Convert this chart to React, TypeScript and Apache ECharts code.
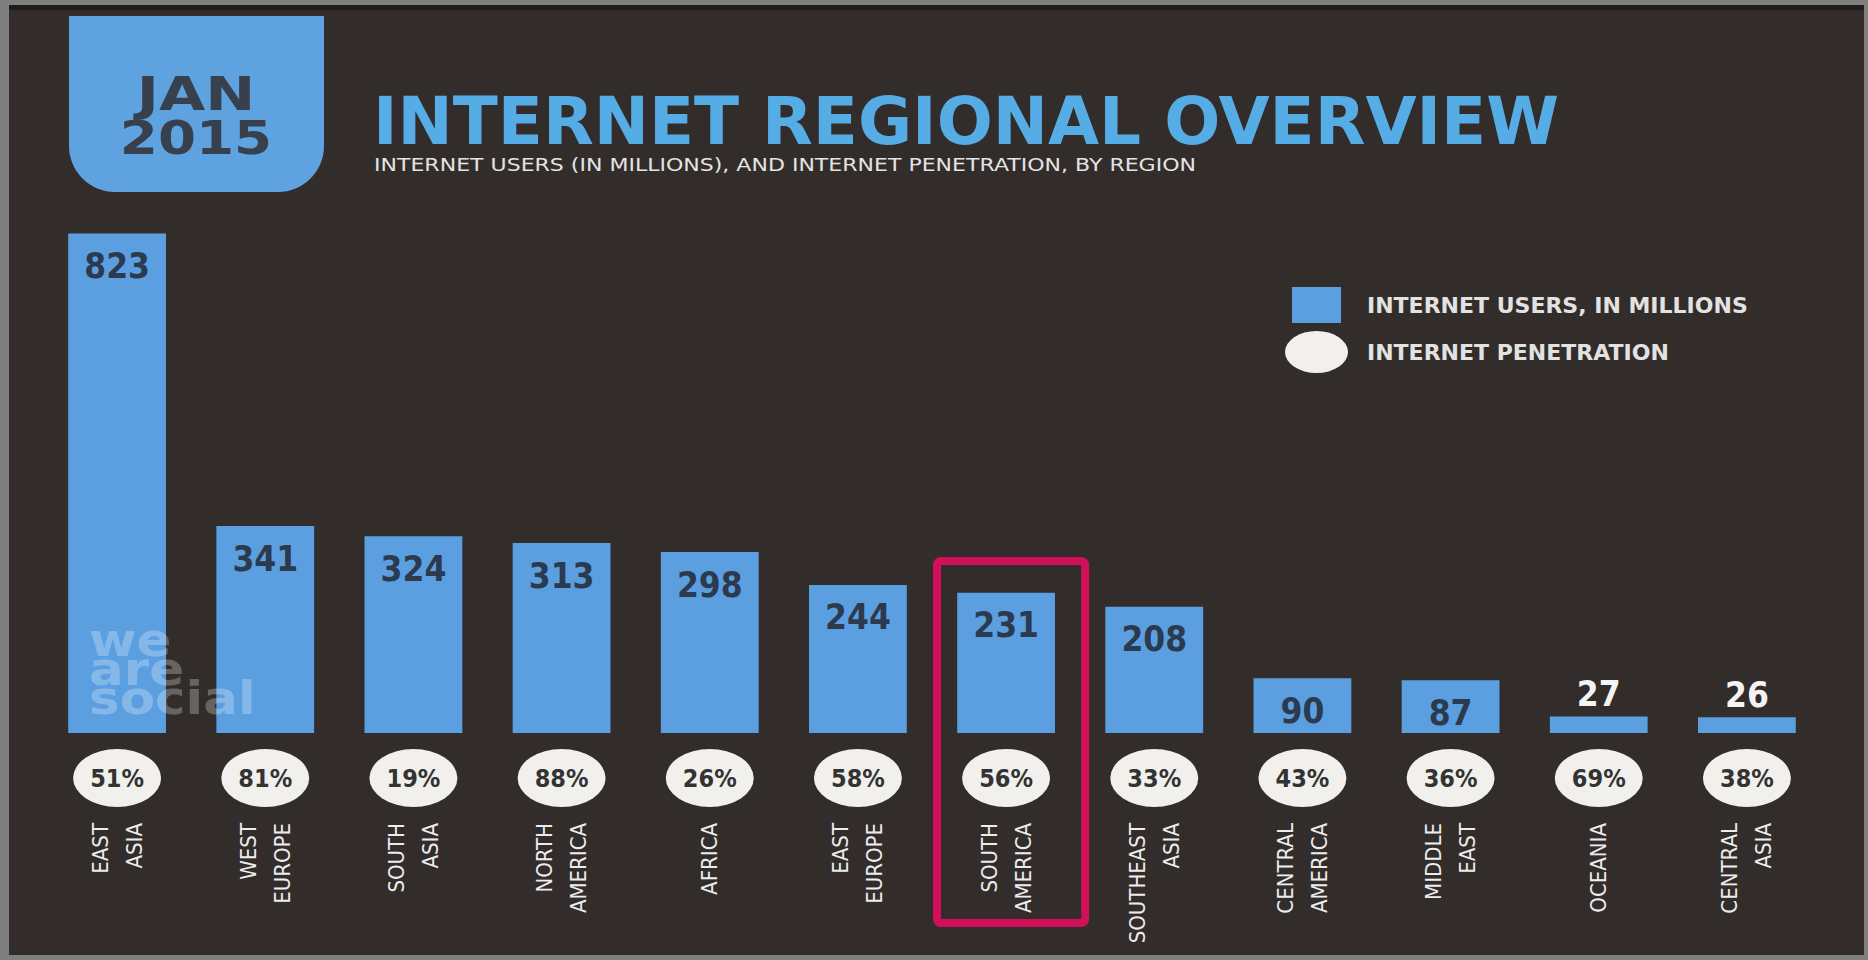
import React, { useEffect, useRef } from 'react';
import * as echarts from 'echarts';

// ---- data ----
const regions = [
  'EAST\nASIA', 'WEST\nEUROPE', 'SOUTH\nASIA', 'NORTH\nAMERICA', 'AFRICA', 'EAST\nEUROPE',
  'SOUTH\nAMERICA', 'SOUTHEAST\nASIA', 'CENTRAL\nAMERICA', 'MIDDLE\nEAST', 'OCEANIA', 'CENTRAL\nASIA',
];
const internetUsers = [823, 341, 324, 313, 298, 244, 231, 208, 90, 87, 27, 26];
const penetration = [51, 81, 19, 88, 26, 58, 56, 33, 43, 36, 69, 38];
const highlighted = 'SOUTH\nAMERICA';
const usersName = 'INTERNET USERS, IN MILLIONS';
const penName = 'INTERNET PENETRATION';
const dateLines = ['JAN', '2015'];
const titleText = 'INTERNET REGIONAL OVERVIEW';
const subtitleText = 'INTERNET USERS (IN MILLIONS), AND INTERNET PENETRATION, BY REGION';
const watermarkLines = ['we', 'are', 'social'];

const NARROW = '"Liberation Sans Narrow", "DejaVu Sans Condensed", "Liberation Sans", sans-serif';
const ELLIPSE = 'path://M0,30 A45,30 0 1,1 90,30 A45,30 0 1,1 0,30 Z';
const BAR_BLUE = '#5b9fe0';

function txt(id: string, x: number, y: number, text: string, font: string, fill: string, align: string, extra: any = {}) {
  return {
    id, type: 'text', x, y, silent: true, ...extra,
    style: {
      text, font, fill, align, verticalAlign: 'middle', textAlign: align, textVerticalAlign: 'middle',
      ...(extra.style || {}),
    },
  };
}

function baseGraphics(): any[] {
  const g: any[] = [
    { id: 'panel', type: 'rect', z: -10, silent: true, shape: { x: 9, y: 5, width: 1855, height: 950 }, style: { fill: '#322d2b' } },
    { id: 'topline', type: 'rect', z: -9, silent: true, shape: { x: 9, y: 5, width: 1855, height: 5 }, style: { fill: '#1f1c1b' } },
    { id: 'badge', type: 'rect', z: -5, silent: true, shape: { x: 69, y: 16, width: 255, height: 176, r: [0, 0, 46, 46] }, style: { fill: '#5ea3e0' } },
    txt('jan', 196, 94, dateLines[0], 'bold 46px "DejaVu Sans"', '#38404d', 'center', { scaleX: 1.3, style: { lineHeight: 46 } }),
    txt('yr', 196, 138, dateLines[1], 'bold 46px "DejaVu Sans"', '#38404d', 'center', { scaleX: 1.19, style: { lineHeight: 46 } }),
    txt('title', 373, 121, titleText, 'bold 66px "DejaVu Sans"', '#56ade6', 'left', { style: { lineHeight: 50 } }),
    txt('sub', 374, 165, subtitleText, '18px "DejaVu Sans"', '#e4e4e4', 'left', { scaleX: 1.225, style: { lineHeight: 18 } }),
  ];
  watermarkLines.forEach((w, i) => {
    g.push(txt('wm' + i, 89, 640 + i * 29, w, 'bold 46px "DejaVu Sans"', 'rgba(255,255,255,0.26)', 'left', { z: 10, scaleX: 1.12, style: { lineHeight: 26 } }));
  });
  return g;
}

export default function App() {
  const ref = useRef<HTMLDivElement>(null);
  useEffect(() => {
    document.body.style.margin = '0';
    const chart = echarts.init(ref.current as HTMLDivElement, null, { renderer: 'svg' });
    const barData = internetUsers.map((v) =>
      v < 50
        ? { value: v, label: { position: 'top', color: '#f4f4f4', distance: 5 } }
        : v,
    );
    const option: any = {
      animation: false,
      backgroundColor: '#7f7f7f',
      grid: { left: 43, right: 47, top: 126, bottom: 227, outerBoundsMode: 'none' },
      xAxis: {
        type: 'category',
        data: regions,
        axisLine: { show: false },
        axisTick: { show: false },
        axisLabel: {
          interval: 0, rotate: 90, margin: 90, color: '#ececec',
          fontFamily: NARROW, fontSize: 22, lineHeight: 34,
        },
      },
      yAxis: { type: 'value', min: 0, max: 1000, show: false },
      legend: [
        {
          data: [usersName], left: 1292, top: 287, padding: 0, icon: 'rect',
          itemWidth: 49, itemHeight: 36, selectedMode: false,
          textStyle: { color: '#e2e2e2', fontFamily: '"DejaVu Sans"', fontWeight: 'bold', fontSize: 22, padding: [0, 0, 0, 21] },
        },
        {
          data: [penName], left: 1285, top: 331, padding: 0, icon: ELLIPSE,
          itemWidth: 63, itemHeight: 42, selectedMode: false,
          textStyle: { color: '#e2e2e2', fontFamily: '"DejaVu Sans"', fontWeight: 'bold', fontSize: 22, padding: [0, 0, 0, 14] },
        },
      ],
      series: [
        {
          name: usersName, type: 'bar', data: barData, barWidth: '66%',
          itemStyle: { color: BAR_BLUE },
          label: {
            show: true, position: 'insideTop', distance: 15, color: '#2b3a4f',
            fontFamily: NARROW, fontWeight: 'bold', fontSize: 35,
          },
        },
        {
          name: penName, type: 'scatter', clip: false,
          data: penetration.map((p, i) => [i, 0]),
          symbol: ELLIPSE, symbolSize: [88, 58], symbolOffset: [0, 45],
          itemStyle: { color: '#f1f0ec', opacity: 1 },
          label: {
            show: true, position: 'inside', color: '#333333',
            fontFamily: NARROW, fontWeight: 'bold', fontSize: 25,
            formatter: (p: any) => penetration[p.dataIndex] + '%',
          },
          z: 3,
        },
      ],
      graphic: baseGraphics(),
    };
    chart.setOption(option);

    const idx = regions.indexOf(highlighted);
    const cx = chart.convertToPixel({ xAxisIndex: 0 } as any, idx) as unknown as number;
    const band = (chart.convertToPixel({ xAxisIndex: 0 } as any, 1) as unknown as number) -
      (chart.convertToPixel({ xAxisIndex: 0 } as any, 0) as unknown as number);
    const g = baseGraphics();
    g.push({
      id: 'hl', type: 'rect', z: 5, silent: true,
      shape: { x: cx - band / 2 + 5, y: 561, width: band, height: 362, r: 4 },
      style: { fill: 'none', stroke: '#d2105a', lineWidth: 8 },
    });
    chart.setOption({ graphic: g });

    return () => chart.dispose();
  }, []);
  return <div ref={ref} style={{ position: 'absolute', left: 0, top: 0, width: 1868, height: 960 }} />;
}
